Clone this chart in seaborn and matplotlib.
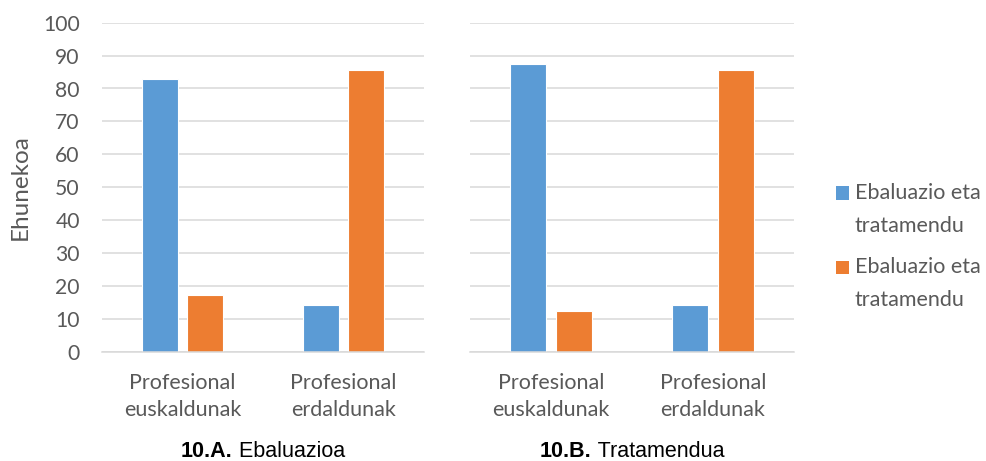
import matplotlib
matplotlib.use("Agg")
import matplotlib.pyplot as plt
from matplotlib.patches import Patch
import pandas as pd
import seaborn as sns

# --- data -----------------------------------------------------------------
panel_codes = ["10.A.", "10.B."]
panel_names = ["Ebaluazioa", "Tratamendua"]
groups = ["Profesional\neuskaldunak", "Profesional\nerdaldunak"]
series = ["euskaraz", "erdaraz"]
legend_labels = ["Ebaluazio eta\ntratamendu", "Ebaluazio eta\ntratamendu"]
colors = ["#5B9BD5", "#ED7D31"]

# percentages, one value per professional group
ebaluazioa_euskaraz = [82.9, 14.3]
ebaluazioa_erdaraz = [17.1, 85.7]
tratamendua_euskaraz = [87.5, 14.3]
tratamendua_erdaraz = [12.5, 85.7]

yticks = [0, 10, 20, 30, 40, 50, 60, 70, 80, 90, 100]
ylabel = "Ehunekoa"

panel_values = [
    [ebaluazioa_euskaraz, ebaluazioa_erdaraz],
    [tratamendua_euskaraz, tratamendua_erdaraz],
]

rows = []
for p, vals in zip(panel_names, panel_values):
    for s, svals in zip(series, vals):
        for g, v in zip(groups, svals):
            rows.append({"panel": p, "group": g, "series": s, "value": v})
df = pd.DataFrame(rows)

# --- style ----------------------------------------------------------------
sns.set_theme(style="white")
plt.rcParams["font.family"] = ["Lato", "DejaVu Sans"]
text_grey = "#595959"
grid_grey = "#D9D9D9"
fs_y = 15.2
fs_x = 15.5
fs_label = 17.5
fs_leg = 15.5

fig = plt.figure(figsize=(9.87, 4.61), dpi=100)
W, H = 987, 461
ax_bottom = 351.7
ax_top = 22.7
axes_px = [(102, 322), (470, 324)]
axes = []
for x0, w in axes_px:
    ax = fig.add_axes([x0 / W, 1 - ax_bottom / H, w / W, (ax_bottom - ax_top) / H])
    axes.append(ax)

for i, (ax, pname) in enumerate(zip(axes, panel_names)):
    sub = df[df["panel"] == pname]
    sns.barplot(data=sub, x="group", y="value", hue="series",
                order=groups, hue_order=series, palette=colors,
                saturation=1, width=0.565, gap=0.2,
                edgecolor="white", linewidth=0.8,
                errorbar=None, legend=False, ax=ax)
    ax.set_xlim(-0.5, 1.5)
    ax.set_ylim(0, 100)
    ax.set_yticks(yticks)
    ax.set_axisbelow(True)
    ax.yaxis.grid(True, color=grid_grey, linewidth=1.1)
    ax.xaxis.grid(False)
    for side in ["top", "left", "right"]:
        ax.spines[side].set_visible(False)
    ax.spines["bottom"].set_color(grid_grey)
    ax.spines["bottom"].set_linewidth(1.1)
    ax.tick_params(axis="both", length=0, colors=text_grey)
    ax.tick_params(axis="y", pad=16, labelsize=fs_y)
    ax.tick_params(axis="x", pad=15, labelsize=fs_x)
    for lab in ax.get_xticklabels():
        lab.set_linespacing(1.45)
    ax.set_xlabel("")
    ax.set_ylabel("")
    if i > 0:
        ax.set_yticklabels([])

fig.text(20 / W, 1 - 187 / H, ylabel, rotation=90, ha="center", va="center",
         fontsize=fs_label, color=text_grey)

# --- legend ---------------------------------------------------------------
handles = [Patch(facecolor=c, edgecolor="none") for c in colors]
leg = fig.legend(handles, legend_labels, loc="upper left",
                 bbox_to_anchor=(836 / W, 1 - 183 / H), frameon=False,
                 fontsize=fs_leg, handlelength=0.6, handleheight=0.6,
                 handletextpad=0.28, labelspacing=1.0, borderpad=0,
                 borderaxespad=0)
for t in leg.get_texts():
    t.set_color(text_grey)
    t.set_linespacing(1.8)

# --- panel captions -------------------------------------------------------
caption_font = ["Liberation Sans Narrow", "Liberation Sans", "DejaVu Sans"]
fig.canvas.draw()
renderer = fig.canvas.get_renderer()

# put each square beside the first line of its label
for patch, txt in zip(leg.get_patches(), leg.get_texts()):
    tb = txt.get_window_extent(renderer)
    pb = patch.get_window_extent(renderer)
    target = tb.y1 - 0.5 * fs_leg * fig.dpi / 72 * 0.95
    shift_px = target - (pb.y0 + pb.y1) / 2
    patch.set_y(patch.get_y() + shift_px * 72 / fig.dpi)

for code, name, (x0, w) in zip(panel_codes, panel_names, axes_px):
    y = 1 - 457 / H
    t1 = fig.text(0, y, code, fontsize=15.5, fontweight="bold", color="black",
                  family=caption_font, ha="left", va="baseline")
    t2 = fig.text(0, y, " " + name, fontsize=15.5, color="black",
                  family=caption_font, ha="left", va="baseline")
    w1 = t1.get_window_extent(renderer).width
    w2 = t2.get_window_extent(renderer).width
    start = x0 + w / 2 - (w1 + w2) / 2
    t1.set_x(start / W)
    t2.set_x((start + w1) / W)

fig.savefig("out.png", dpi=100)
